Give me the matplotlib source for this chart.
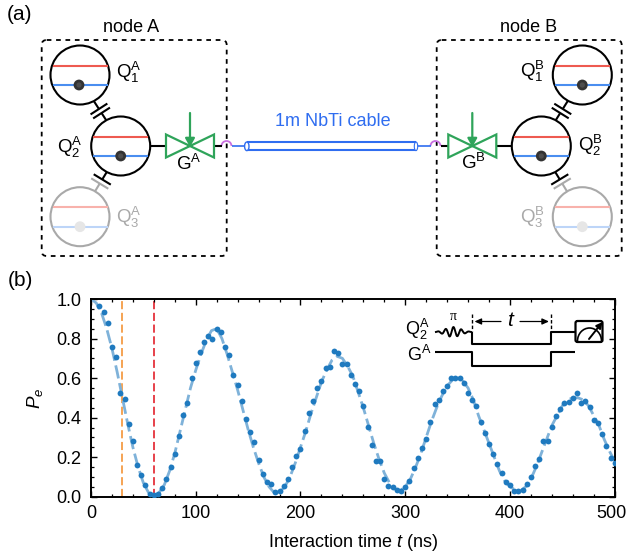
#!/bin/env python
# -*- coding: utf-8 -*-
# vacuum Rabi style swap between qubit and cable, with the device sketch above
import matplotlib
matplotlib.use('Agg')
import matplotlib.pyplot as plt
from matplotlib.patches import Circle, Ellipse, FancyBboxPatch, Arc, Polygon
from matplotlib.ticker import MultipleLocator
from matplotlib.transforms import ScaledTranslation
import numpy as np

plt.rcParams['font.family'] = ['Liberation Sans', 'DejaVu Sans']
plt.rcParams['mathtext.fontset'] = 'custom'
plt.rcParams['mathtext.rm'] = 'Liberation Sans'
plt.rcParams['mathtext.it'] = 'Liberation Sans:italic'
plt.rcParams['mathtext.bf'] = 'Liberation Sans:bold'

# measured points
time_ns = list(range(8, 501, 4))
pe_data = [0.966, 0.936, 0.880, 0.757, 0.707, 0.526, 0.494, 0.369, 0.282, 0.158,
           0.108, 0.060, 0.012, 0.010, 0.015, 0.044, 0.090, 0.150, 0.214, 0.307,
           0.413, 0.474, 0.599, 0.676, 0.733, 0.780, 0.813, 0.800, 0.850, 0.835,
           0.755, 0.717, 0.617, 0.563, 0.484, 0.395, 0.327, 0.277, 0.185, 0.115,
           0.074, 0.064, 0.022, 0.030, 0.052, 0.088, 0.148, 0.206, 0.240, 0.334,
           0.423, 0.484, 0.551, 0.585, 0.649, 0.654, 0.739, 0.728, 0.669, 0.673,
           0.617, 0.572, 0.533, 0.457, 0.354, 0.260, 0.179, 0.179, 0.091, 0.056,
           0.047, 0.034, 0.030, 0.049, 0.081, 0.145, 0.196, 0.248, 0.290, 0.378,
           0.470, 0.489, 0.535, 0.558, 0.600, 0.602, 0.599, 0.573, 0.526, 0.487,
           0.459, 0.378, 0.320, 0.265, 0.214, 0.165, 0.118, 0.076, 0.057, 0.029,
           0.029, 0.034, 0.066, 0.098, 0.155, 0.190, 0.280, 0.282, 0.352, 0.408,
           0.442, 0.474, 0.479, 0.497, 0.524, 0.474, 0.486, 0.455, 0.388, 0.374,
           0.317, 0.258, 0.196, 0.169]

# fitted curve
fit_t = [0, 5, 10, 15, 20, 25, 30, 35, 40, 45, 50, 55, 60, 65, 70, 75, 80, 85, 90,
         95, 100, 105, 110, 115, 120, 125, 130, 135, 140, 145, 150, 155, 160, 165,
         170, 175, 180, 185, 190, 195, 200, 205, 210, 215, 220, 225, 230, 235, 240,
         245, 250, 255, 260, 265, 270, 275, 280, 285, 290, 295, 300, 305, 310, 315,
         320, 325, 330, 335, 340, 345, 350, 355, 360, 365, 370, 375, 380, 385, 390,
         395, 400, 405, 410, 415, 420, 425, 430, 435, 440, 445, 450, 455, 460, 465,
         470, 475, 480, 485, 490, 495, 500]
fit_pe = [1.00, 0.98, 0.93, 0.85, 0.75, 0.63, 0.50, 0.37, 0.25, 0.15, 0.07, 0.02,
          0.00, 0.02, 0.06, 0.13, 0.22, 0.33, 0.44, 0.55, 0.64, 0.72, 0.79, 0.84,
          0.85, 0.80, 0.72, 0.63, 0.54, 0.44, 0.34, 0.25, 0.17, 0.10, 0.05, 0.02,
          0.025, 0.05, 0.10, 0.17, 0.25, 0.33, 0.42, 0.50, 0.58, 0.64, 0.69, 0.71,
          0.70, 0.66, 0.61, 0.53, 0.45, 0.36, 0.27, 0.19, 0.12, 0.07, 0.04, 0.03,
          0.05, 0.09, 0.15, 0.22, 0.30, 0.38, 0.45, 0.51, 0.56, 0.59, 0.60, 0.585,
          0.55, 0.49, 0.41, 0.34, 0.27, 0.20, 0.13, 0.08, 0.05, 0.035, 0.03, 0.05,
          0.09, 0.15, 0.22, 0.29, 0.36, 0.41, 0.46, 0.49, 0.50, 0.50, 0.49, 0.46,
          0.41, 0.36, 0.29, 0.23, 0.18]

xticks = [0, 100, 200, 300, 400, 500]
yticks = [0.0, 0.2, 0.4, 0.6, 0.8, 1.0]
marker_times = [30, 60]
marker_colors = ['#f59c45', '#e5323b']

RED = '#ee5a50'
BLUE = '#4a8ef0'
GREEN = '#2fa45a'
CABLE = '#2f6df0'
GRAY = '#a9a9a9'

fig = plt.figure(figsize=(6.28, 5.54), dpi=100)
ax = fig.add_axes([91.0 / 628, (554 - 496.7) / 554, 523.7 / 628, 197.7 / 554])

ax.plot(fit_t, fit_pe, color='#7fb2d9', lw=2.0, dashes=(4.8, 1.7), zorder=2)
ax.plot(time_ns, pe_data, 'o', color='#1f7abf', ms=4.2, mew=0, zorder=3)
for t, c in zip(marker_times, marker_colors):
    ax.axvline(t, color=c, lw=1.3, dashes=(4.5, 2), zorder=1)

ax.set_xlim(0, 500)
ax.set_ylim(0, 1)
ax.set_xticks(xticks)
ax.set_yticks(yticks)
ax.xaxis.set_minor_locator(MultipleLocator(20))
ax.yaxis.set_minor_locator(MultipleLocator(0.05))
ax.tick_params(which='major', direction='in', top=True, right=True, length=4.5, width=1.0,
               labelsize=13)
ax.tick_params(axis='x', which='major', pad=6)
ax.tick_params(axis='y', which='major', pad=7)
ax.tick_params(which='minor', direction='in', top=True, right=True, length=2.2, width=0.9)
for s in ax.spines.values():
    s.set_linewidth(1.4)
ax.set_xlabel(r'Interaction time $\mathit{t}$ (ns)', fontsize=13, labelpad=7.5)
ax.set_ylabel(r'$\mathit{P}_{\mathit{e}}$', fontsize=13.5, labelpad=8)
# last x label would run off the right edge otherwise
last = ax.get_xticklabels()[-1]
last.set_transform(last.get_transform() + ScaledTranslation(-2.0 / 72, 0, fig.dpi_scale_trans))

# everything else is a sketch, drawn in pixel coordinates of the figure
sk = fig.add_axes([0, 0, 1, 1], facecolor='none')
sk.set_xlim(0, 628)
sk.set_ylim(554, 0)
sk.axis('off')


def line(x, y, color='k', lw=1.5, **kw):
    sk.plot(x, y, color=color, lw=lw, solid_capstyle='butt', **kw)


def qubit(cx, cy, faded=False, dot_dx=0):
    edge = GRAY if faded else 'k'
    red = '#f8b2ac' if faded else RED
    blue = '#bdd5f8' if faded else BLUE
    dot = '#e6e6e6' if faded else '#333333'
    sk.add_patch(Circle((cx, cy), 29.5, fc='white', ec=edge, lw=1.5, zorder=3))
    line([cx - 27.5, cx + 27.5], [cy - 9.5, cy - 9.5], color=red, lw=1.5, zorder=4)
    line([cx - 27.5, cx + 27.5], [cy + 10, cy + 10], color=blue, lw=1.5, zorder=4)
    sk.add_patch(Circle((cx + dot_dx, cy + 10), 5.4, fc=dot, ec='none', zorder=5))
    if not faded:
        sk.add_patch(Circle((cx + dot_dx, cy + 10), 2.6, fc='#4d4d4d', ec='none', zorder=5))


def capacitor(x0, y0, x1, y1, c0='k', c1='k'):
    # stems run from circle to circle, two plates across the middle
    p0 = np.array([x0, y0], dtype=float)
    p1 = np.array([x1, y1], dtype=float)
    d = (p1 - p0) / np.hypot(*(p1 - p0))
    n = np.array([-d[1], d[0]])
    m = (p0 + p1) / 2
    a = m - 2.4 * d
    b = m + 2.4 * d
    line([p0[0], a[0]], [p0[1], a[1]], color=c0, zorder=2)
    line([b[0], p1[0]], [b[1], p1[1]], color=c1, zorder=2)
    line([a[0] - 10 * n[0], a[0] + 10 * n[0]], [a[1] - 10 * n[1], a[1] + 10 * n[1]], color=c0, zorder=2)
    line([b[0] - 10 * n[0], b[0] + 10 * n[0]], [b[1] - 10 * n[1], b[1] + 10 * n[1]], color=c1, zorder=2)


def gate(cx, cy):
    sk.add_patch(Polygon([(cx - 24, cy - 11.5), (cx + 24, cy + 11.5), (cx + 24, cy - 11.5),
                          (cx - 24, cy + 11.5)], closed=True, fc='none', ec=GREEN, lw=1.6, zorder=4))
    sk.annotate('', xy=(cx, cy + 1), xytext=(cx, cy - 33),
                arrowprops=dict(arrowstyle='-|>,head_width=0.28,head_length=0.5', color=GREEN, lw=1.6,
                                shrinkA=0, shrinkB=0), zorder=5)


def node_box(x0, x1):
    sk.add_patch(FancyBboxPatch((x0 + 4, 44), x1 - x0 - 8, 208, boxstyle='round,pad=4,rounding_size=5',
                                fc='none', ec='k', lw=1.3, ls=(0, (2.6, 2.6)), zorder=1))


def qlabel(x, y, txt, color='k', size=13.5):
    sk.text(x, y, txt, fontsize=size, color=color, ha='center', va='center', zorder=6)


# node A
node_box(41.7, 226.7)
capacitor(92.5, 99, 108, 123)
capacitor(108, 170, 94, 193, c1=GRAY)
qubit(80, 75, dot_dx=-1)
qubit(120.7, 146)
qubit(80, 216.7, faded=True)
line([150.5, 166], [146, 146])
line([214, 221.5], [146, 146])
gate(190, 146)
sk.add_patch(Arc((226.5, 146), 10, 10, theta1=180, theta2=360, color='#c86fe0', lw=1.3))

# node B
node_box(436.7, 621.7)
capacitor(569, 99, 554, 123)
capacitor(554, 170, 568, 193, c1=GRAY)
qubit(582.3, 75)
qubit(541.3, 146)
qubit(582.3, 216.7, faded=True)
line([496, 511.5], [146, 146])
line([440.7, 448.3], [146, 146])
gate(472.3, 146)
sk.add_patch(Arc((435.5, 146), 10, 10, theta1=180, theta2=360, color='#c86fe0', lw=1.3))

# cable between the nodes, note y is flipped so the arcs above bow upwards
line([231.5, 245], [146, 146], color=CABLE, lw=1.2)
line([417, 430.5], [146, 146], color=CABLE, lw=1.2)
line([247, 416], [142.4, 142.4], color=CABLE, lw=1.5)
line([247, 416], [150.2, 150.2], color=CABLE, lw=1.5)
sk.add_patch(Ellipse((246.8, 146.3), 4.4, 8.6, fc='white', ec=CABLE, lw=1.0, zorder=3))
sk.add_patch(Ellipse((416, 146.3), 3.4, 8.6, fc='white', ec=CABLE, lw=0.8, zorder=3))
sk.text(333, 122, '1m NbTi cable', fontsize=13, color=CABLE, ha='center', va='center')

sk.text(20, 14, '(a)', fontsize=15, ha='center', va='center')
sk.text(20.5, 281, '(b)', fontsize=15, ha='center', va='center')
sk.text(130.7, 27, 'node A', fontsize=13, ha='center', va='center')
sk.text(529, 27, 'node B', fontsize=13, ha='center', va='center')

qlabel(129, 72, r'$\mathrm{Q}_{1}^{\mathrm{A}}$')
qlabel(70, 147, r'$\mathrm{Q}_{2}^{\mathrm{A}}$')
qlabel(129, 217, r'$\mathrm{Q}_{3}^{\mathrm{A}}$', color=GRAY)
qlabel(189, 164, r'$\mathrm{G}^{\mathrm{A}}$')
qlabel(532.7, 71, r'$\mathrm{Q}_{1}^{\mathrm{B}}$')
qlabel(590, 145, r'$\mathrm{Q}_{2}^{\mathrm{B}}$')
qlabel(532.7, 217, r'$\mathrm{Q}_{3}^{\mathrm{B}}$', color=GRAY)
qlabel(473, 163, r'$\mathrm{G}^{\mathrm{B}}$')

# pulse sequence inset
qlabel(417, 329, r'$\mathrm{Q}_{2}^{\mathrm{A}}$', size=13)
qlabel(419.5, 355, r'$\mathrm{G}^{\mathrm{A}}$', size=13)
sk.text(453.5, 317, 'π', fontsize=10, family=['Liberation Serif', 'DejaVu Serif'], ha='center', va='center')
wx = np.linspace(435, 472, 200)
wy = 332 - 5 * np.exp(-((wx - 453) / 10.5) ** 2) * np.sin(2 * np.pi * (wx - 453) / 7.8 + 1.2)
line(wx, wy, lw=1.4)
line([472.3, 472.3, 551, 551, 575], [332, 344.4, 344.4, 332, 332], lw=1.5)
line([435, 472.3, 472.3, 551, 551, 575], [352.4, 352.4, 365.6, 365.6, 352.4, 352.4], lw=1.5)
line([472.3, 472.3], [314, 331], lw=1.0, ls=(0, (2.5, 1.5)))
line([551, 551], [314, 331], lw=1.0, ls=(0, (2.5, 1.5)))
sk.text(511.5, 320, r'$\mathit{t}$', fontsize=15, ha='center', va='center')
for x0, x1 in [(501, 474.5), (520, 549)]:
    sk.annotate('', xy=(x1, 321.5), xytext=(x0, 321.5),
                arrowprops=dict(arrowstyle='-|>,head_width=0.18,head_length=0.4', color='k', lw=0.9,
                                shrinkA=0, shrinkB=0))
sk.add_patch(FancyBboxPatch((576, 321.5), 26, 20, boxstyle='round,pad=0.5,rounding_size=2',
                            fc='white', ec='k', lw=1.6, zorder=4))
sk.add_patch(Arc((589.5, 341), 24, 26, theta1=180, theta2=360, color='k', lw=1.2, zorder=5))
sk.annotate('', xy=(602.5, 322), xytext=(589, 339),
            arrowprops=dict(arrowstyle='-|>,head_width=0.18,head_length=0.35', color='k', lw=1.4,
                            shrinkA=0, shrinkB=0), zorder=6)

fig.savefig('out.png', dpi=100)
